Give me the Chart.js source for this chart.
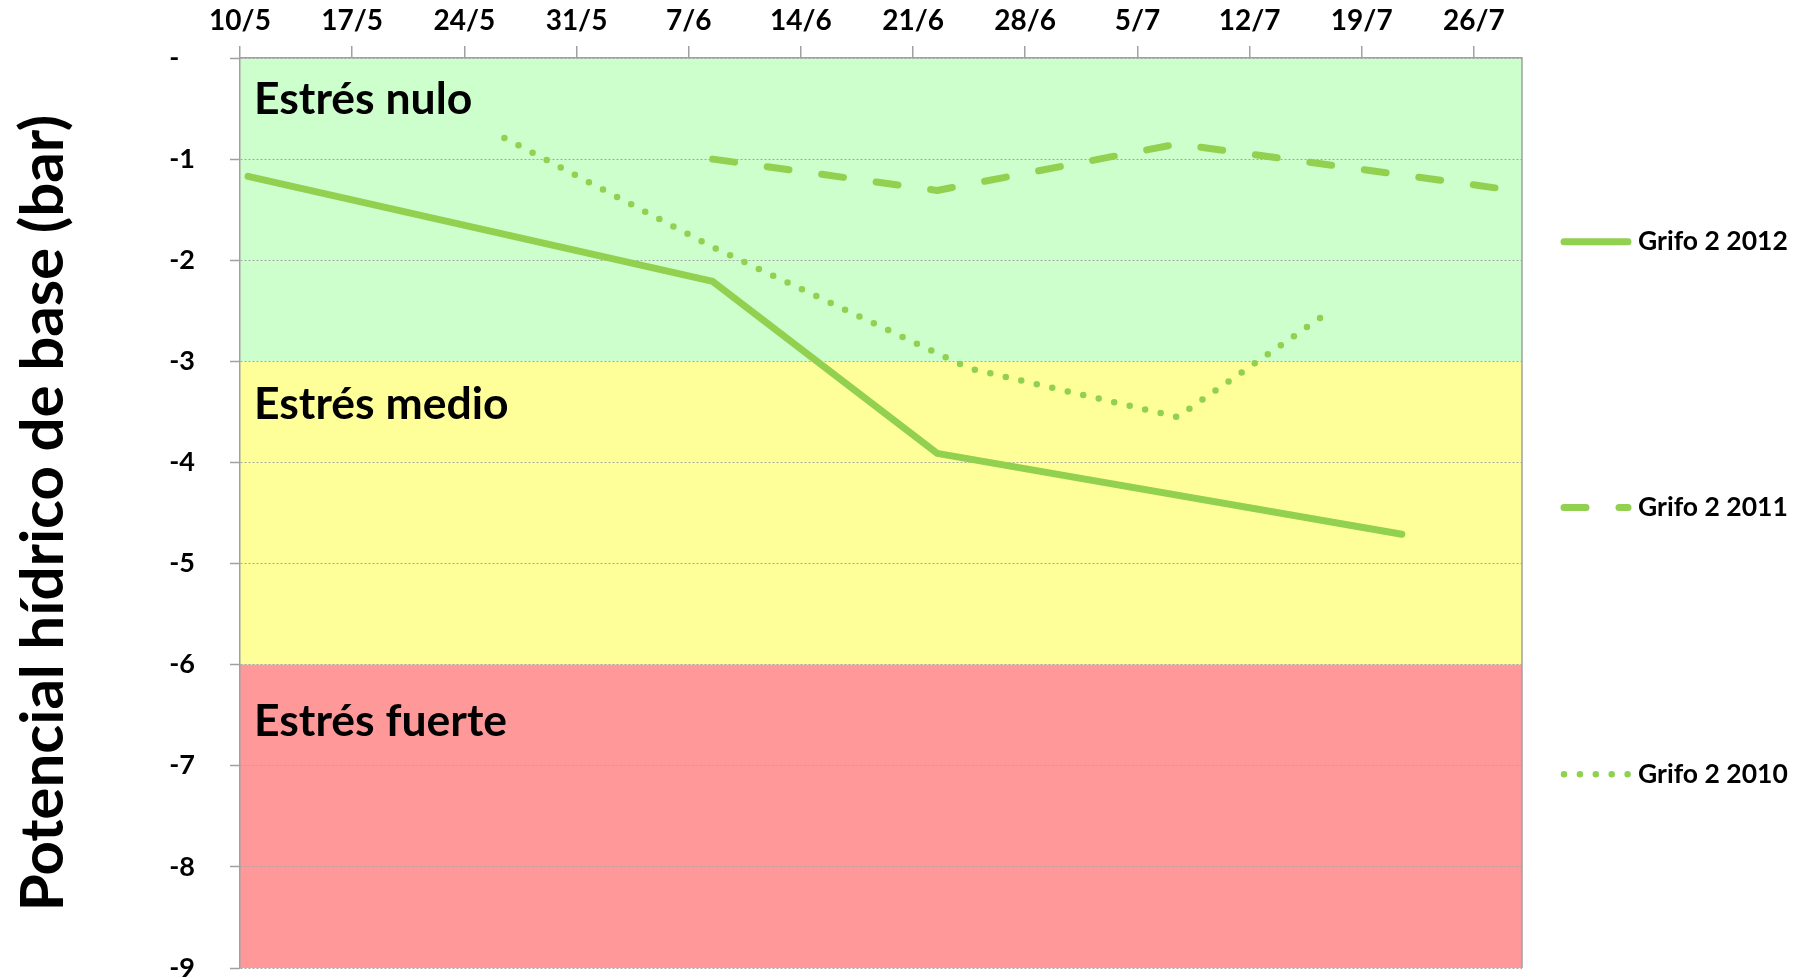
<!DOCTYPE html>
<html>
<head>
<meta charset="utf-8">
<script src="https://cdn.jsdelivr.net/npm/chart.js@4.4.0/dist/chart.umd.min.js"></script>
<style>
html, body { margin: 0; padding: 0; background: #fff; }
#wrap { width: 1804px; height: 978px; }
</style>
</head>
<body>
<div id="wrap"><canvas id="myChart"></canvas></div>
<script>
var fechas2012 = ['10/5', '8/6', '22/6', '21/7']
var grifo2012 = [-1.17, -2.21, -3.91, -4.71]

var fechas2011 = ['8/6', '22/6', '7/7', '28/7']
var grifo2011 = [-1.0, -1.31, -0.85, -1.31]

var fechas2010 = ['26/5', '8/6', '24/6', '7/7', '16/7']
var grifo2010 = [-0.79, -1.87, -3.07, -3.55, -2.56]

var tickFechas = ['10/5', '17/5', '24/5', '31/5', '7/6', '14/6', '21/6', '28/6', '5/7', '12/7', '19/7', '26/7']
var finEje = '29/7'

var bandas = [0, -3, -6, -9]
var bandaColores = ['#ccffcc', '#ffff99', '#ff9999']
var bandaTextos = ['Estrés nulo', 'Estrés medio', 'Estrés fuerte']

var verde = '#92d050'
var fuente = 'Lato'

// offsets of the zone captions below each band top, and legend rows
var textoBase = [56, 58, 71]
var leyendaY = [0.202, 0.494, 0.787]

function dia(fecha) {
	var p = fecha.split('/')
	return (Date.UTC(2012, p[1] - 1, +p[0]) - Date.UTC(2012, 4, 10)) / 86400000
}

// excel date axis: points sit between tick marks (middle of the day)
function puntos(fechas, valores) {
	return fechas.map(function(f, i) {
		return { x: dia(f) + 0.5, y: valores[i] }
	})
}

var zonas = {
	id: 'zonas',
	beforeDraw: function(chart) {
		var ctx = chart.ctx, a = chart.chartArea, y = chart.scales.y
		ctx.save()
		for (var i = 0; i < bandaColores.length; i++) {
			var y0 = y.getPixelForValue(bandas[i])
			var y1 = y.getPixelForValue(bandas[i + 1])
			ctx.fillStyle = bandaColores[i]
			ctx.fillRect(a.left, y0, a.right - a.left, y1 - y0)
		}
		ctx.restore()
	},
	beforeDatasetsDraw: function(chart) {
		var ctx = chart.ctx, a = chart.chartArea, y = chart.scales.y
		ctx.save()
		ctx.fillStyle = '#000'
		ctx.font = 'bold 44.5px ' + fuente
		ctx.textAlign = 'left'
		ctx.textBaseline = 'alphabetic'
		for (var i = 0; i < bandaTextos.length; i++) {
			ctx.fillText(bandaTextos[i], a.left + 14, y.getPixelForValue(bandas[i]) + textoBase[i])
		}
		ctx.restore()
	},
	afterDraw: function(chart) {
		var ctx = chart.ctx, a = chart.chartArea
		ctx.save()
		ctx.strokeStyle = '#a0a0a0'
		ctx.lineWidth = 1.5
		ctx.beginPath()
		ctx.moveTo(a.right, a.top)
		ctx.lineTo(a.right, a.bottom)
		ctx.stroke()

		chart.data.datasets.forEach(function(ds, i) {
			var yy = a.top + (a.bottom - a.top) * leyendaY[i]
			var x0 = a.right + 42
			var x1 = x0 + 64
			ctx.setLineDash(ds.borderDash || [])
			ctx.lineCap = 'round'
			ctx.lineWidth = ds.borderWidth
			ctx.strokeStyle = ds.borderColor
			ctx.beginPath()
			ctx.moveTo(x0, yy)
			ctx.lineTo(x1, yy)
			ctx.stroke()
			ctx.setLineDash([])
			ctx.fillStyle = '#000'
			ctx.font = 'bold 26.5px ' + fuente
			ctx.textAlign = 'left'
			ctx.textBaseline = 'middle'
			ctx.fillText(ds.label, x1 + 10, yy)
		})
		ctx.restore()
	}
}

var ctx = document.getElementById('myChart').getContext('2d')
var chart = new Chart(ctx, {
	type: 'line',
	data: {
		datasets: [{
			label: 'Grifo 2 2012',
			data: puntos(fechas2012, grifo2012),
			borderColor: verde,
			borderWidth: 7,
			borderCapStyle: 'round',
			borderJoinStyle: 'round',
			pointRadius: 0,
			tension: 0
		}, {
			label: 'Grifo 2 2011',
			data: puntos(fechas2011, grifo2011),
			borderColor: verde,
			borderWidth: 7,
			borderDash: [22, 33],
			borderCapStyle: 'round',
			borderJoinStyle: 'round',
			pointRadius: 0,
			tension: 0
		}, {
			label: 'Grifo 2 2010',
			data: puntos(fechas2010, grifo2010),
			borderColor: verde,
			borderWidth: 6.5,
			borderDash: [0, 15.9],
			borderCapStyle: 'round',
			borderJoinStyle: 'round',
			pointRadius: 0,
			tension: 0
		}]
	},
	options: {
		animation: false,
		responsive: true,
		maintainAspectRatio: false,
		layout: { padding: { left: 4, top: 4, right: 282, bottom: 10 } },
		plugins: {
			legend: { display: false },
			tooltip: { enabled: false }
		},
		scales: {
			x: {
				type: 'linear',
				position: 'top',
				min: 0,
				max: dia(finEje),
				afterBuildTicks: function(s) {
					s.ticks = tickFechas.map(function(f) { return { value: dia(f) } })
				},
				afterFit: function(s) { s.height = 54 },
				ticks: {
					autoSkip: false,
					maxRotation: 0,
					padding: 8,
					color: '#000',
					font: { family: fuente, size: 28, weight: 'bold' },
					callback: function(v, i) { return tickFechas[i] }
				},
				grid: { drawOnChartArea: false, drawTicks: true, tickLength: 12, color: '#a0a0a0', lineWidth: 1.5 },
				border: { display: true, color: '#a0a0a0', width: 1.5 }
			},
			y: {
				min: -9,
				max: 0,
				afterFit: function(s) {
					s.width = 236
					s.paddingTop = 0
					s.paddingBottom = 0
				},
				ticks: {
					stepSize: 1,
					padding: 35,
					color: '#000',
					font: { family: fuente, size: 27, weight: 'bold' },
					callback: function(v) { return v === 0 ? '-\u2007' : String(v) }
				},
				grid: { color: '#a6a6a6', lineWidth: 1, tickLength: 10, tickColor: '#a0a0a0', tickWidth: 1.5 },
				border: { display: true, color: '#a0a0a0', width: 1.5, dash: [2, 2] },
				title: {
					display: true,
					text: 'Potencial hídrico de base (bar)',
					color: '#000',
					font: { family: fuente, size: 60, weight: 'bold' },
					padding: { top: 4, bottom: 0 }
				}
			}
		}
	},
	plugins: [zonas]
})
</script>
</body>
</html>
